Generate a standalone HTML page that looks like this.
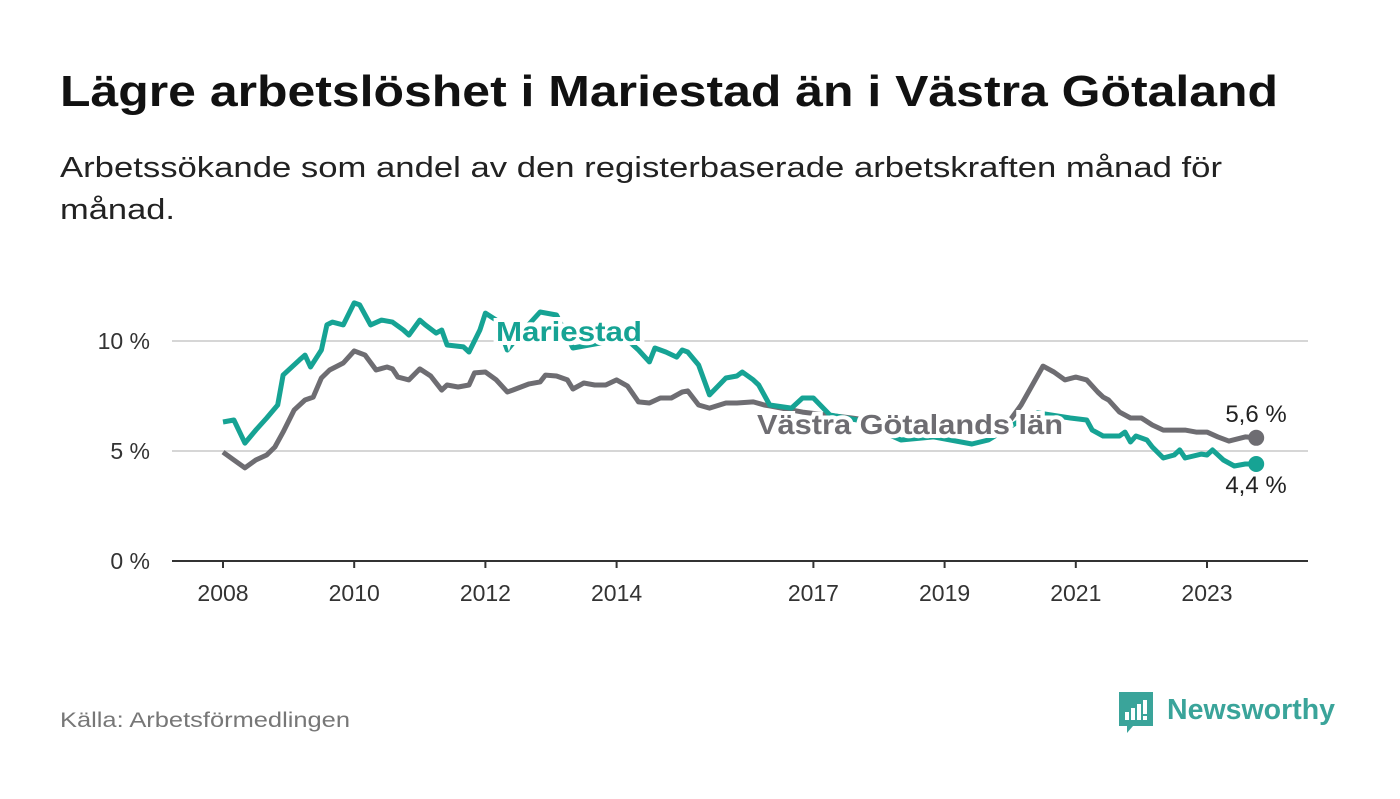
<!DOCTYPE html>
<html><head><meta charset="utf-8"><style>
body{margin:0;background:#fff;width:1400px;height:794px;overflow:hidden;font-family:"Liberation Sans",sans-serif}
svg text{font-family:"Liberation Sans",sans-serif}
</style></head><body>
<svg id="chart" width="1400" height="794" viewBox="0 0 1400 794">
<text x="60" y="106" font-size="44" font-weight="bold" fill="#111" textLength="1218" lengthAdjust="spacingAndGlyphs">Lägre arbetslöshet i Mariestad än i Västra Götaland</text>
<text x="60" y="177" font-size="29" fill="#222" textLength="1162" lengthAdjust="spacingAndGlyphs">Arbetssökande som andel av den registerbaserade arbetskraften månad för</text>
<text x="60" y="219" font-size="29" fill="#222" textLength="115" lengthAdjust="spacingAndGlyphs">månad.</text>
<g id="grid"></g><g id="lines"></g><g id="labels"></g>
<text x="60" y="727" font-size="21" fill="#777" textLength="290" lengthAdjust="spacingAndGlyphs">Källa: Arbetsförmedlingen</text>
<g>
<path d="M1119 692h34v34h-20l-6 7v-7h-8z" fill="#3aa49a"/>
<rect x="1125" y="712" width="4" height="8" fill="#fff"/><rect x="1131" y="708" width="4" height="12" fill="#fff"/><rect x="1137" y="704" width="4" height="16" fill="#fff"/><rect x="1143" y="700" width="4" height="14" fill="#fff"/><rect x="1143" y="716" width="4" height="4" fill="#fff"/>
<text x="1167" y="719" font-size="29" font-weight="bold" fill="#3aa49a" textLength="168" lengthAdjust="spacingAndGlyphs">Newsworthy</text>
</g>
</svg>
<script>
const yearTicks=[2008,2010,2012,2014,2017,2019,2021,2023];
const yTicks=[0,5,10];
const months_m=[0,2,4,6,8,10,11,14,15,16,18,19,20,22,24,25,27,29,31,33,34,36,37,39,40,41,44,45,47,48,50,52,55,58,61,64,69,73,76,78,79,81,83,84,85,87,89,92,94,95,97,98,100,104,106,108,111,116,124,130,137,140,146,149,155,158,159,161,164,165,166,167,169,170,172,174,175,176,179,180,181,183,185,187,189];
const values_m=[6.32,6.41,5.36,5.95,6.5,7.09,8.45,9.14,9.36,8.82,9.59,10.73,10.86,10.73,11.73,11.64,10.73,10.95,10.86,10.5,10.27,10.95,10.73,10.36,10.5,9.82,9.73,9.5,10.5,11.27,10.95,9.59,10.5,11.32,11.18,9.68,9.91,10.27,9.59,9.05,9.68,9.5,9.27,9.59,9.5,8.91,7.55,8.32,8.41,8.59,8.23,8.0,7.09,6.95,7.41,7.41,6.64,6.41,5.5,5.64,5.32,5.5,6.41,6.73,6.5,6.41,5.95,5.68,5.68,5.86,5.41,5.68,5.5,5.18,4.68,4.82,5.05,4.68,4.86,4.82,5.05,4.59,4.32,4.41,4.41];
const months_v=[0,2,4,6,8,9.5,11,13,15,16.5,18,19.5,22,24,26,28,30,31,32,34,36,38,40,41,43,45,46,48,50,52,53,56,58,59,61,63,64,66,68,70,72,74,76,78,80,82,84,85,87,89,92,94,97,99,100,106,115,124,133,140,144,146,150,152,154,156,158,160,161,162,164,166,168,170,172,176,178,180,182,184,187,189];
const values_v=[4.95,4.59,4.23,4.59,4.82,5.18,5.86,6.86,7.32,7.45,8.32,8.68,9.0,9.55,9.36,8.68,8.82,8.73,8.36,8.23,8.73,8.41,7.77,8.0,7.91,8.0,8.55,8.59,8.23,7.68,7.77,8.05,8.14,8.45,8.41,8.23,7.82,8.09,8.0,8.0,8.23,7.95,7.23,7.18,7.41,7.41,7.68,7.73,7.09,6.95,7.18,7.18,7.23,7.09,7.05,6.77,6.5,6.18,6.18,6.41,6.41,7.09,8.86,8.59,8.23,8.36,8.23,7.68,7.45,7.32,6.77,6.5,6.5,6.18,5.95,5.95,5.86,5.86,5.64,5.45,5.64,5.6];
const NS='http://www.w3.org/2000/svg';
const X=m=>223+m*65.6/12, XY=yr=>X((yr-2008)*12), Y=v=>561-v*22;
function mk(t,a,p){const e=document.createElementNS(NS,t);for(const k in a)e.setAttribute(k,a[k]);p.appendChild(e);return e;}
const grid=document.getElementById('grid'),lines=document.getElementById('lines'),labels=document.getElementById('labels');
yTicks.forEach(v=>{
 const l=mk('line',{x1:172,x2:1308,y1:Y(v),y2:Y(v),stroke:v===0?'#333':'#d6d6d6','stroke-width':2},grid);
 
 
 const t=mk('text',{x:150,y:Y(v)+8,'text-anchor':'end','font-size':23,fill:'#333'},grid);t.textContent=v+' %';
 
 
});
yearTicks.forEach(yr=>{
 const tk=mk('line',{x1:XY(yr),x2:XY(yr),y1:561,y2:568,stroke:'#333','stroke-width':2},grid);
 
 
 const t=mk('text',{x:XY(yr),y:601,'text-anchor':'middle','font-size':23,fill:'#333'},grid);t.textContent=yr;
 
 
});
function pts(ms,vs){return ms.map((m,i)=>X(m).toFixed(1)+','+Y(vs[i]).toFixed(1)).join(' ');}
const pv=mk('polyline',{points:pts(months_v,values_v),fill:'none',stroke:'#6e6d72','stroke-width':5,'stroke-linejoin':'round'},lines);


const pm=mk('polyline',{points:pts(months_m,values_m),fill:'none',stroke:'#16a394','stroke-width':5,'stroke-linejoin':'round'},lines);


const lv=months_v.length-1,lm=months_m.length-1;
const dv=mk('circle',{cx:X(months_v[lv]),cy:Y(values_v[lv]),r:8,fill:'#6e6d72'},lines);


const dm=mk('circle',{cx:X(months_m[lm]),cy:Y(values_m[lm]),r:8,fill:'#16a394'},lines);


function lab(x,y,txt,col,name,sz,bold,anchor,len){const a={x:x,y:y,'font-size':sz,'font-weight':bold?'bold':'normal',fill:col,stroke:'#fff','stroke-width':bold?8:0,'paint-order':'stroke','text-anchor':anchor||'start'};if(len){a.textLength=len;a.lengthAdjust='spacingAndGlyphs';}const t=mk('text',a,labels);t.textContent=txt;
 
 }
lab(496,341,'Mariestad','#16a394','mariestad-label',28,true,'start',146);
lab(757,434,'Västra Götalands län','#6e6d72','vastra-gotaland-label',28,true,'start',306);
lab(1256,422,values_v[lv].toFixed(1).replace('.',',')+' %','#222','vastra-gotaland-end-value',24,false,'middle');
lab(1256,493,values_m[lm].toFixed(1).replace('.',',')+' %','#222','mariestad-end-value',24,false,'middle');
</script>
</body></html>
